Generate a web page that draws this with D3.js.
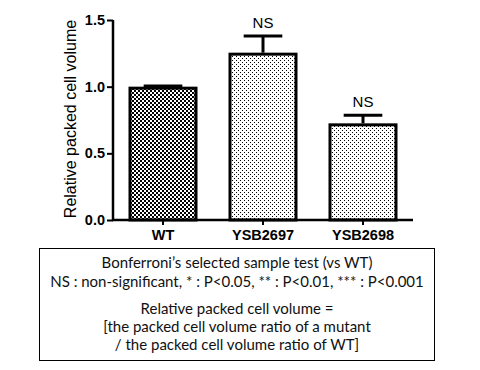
<!DOCTYPE html>
<html>
<head>
<meta charset="utf-8">
<script src="https://cdn.jsdelivr.net/npm/d3@7"></script>
<style>
  body { margin: 0; background: #fff; }
  svg { display: block; }
</style>
</head>
<body>
<div id="chart"></div>
<script>
// chart data
const categories = ["WT", "YSB2697", "YSB2698"];
const means = [1.0, 1.255, 0.725];
const errors = [0.005, 0.125, 0.06];
const signif = ["", "NS", "NS"];
const yTicks = [0.0, 0.5, 1.0, 1.5];
const yTitle = "Relative packed cell volume";
const noteLines = [
  "Bonferroni\u2019s selected sample test (vs WT)",
  "NS : non-significant, * : P<0.05, ** : P<0.01, *** : P<0.001",
  "Relative packed cell volume =",
  "[the packed cell volume ratio of a mutant",
  "/ the packed cell volume ratio of WT]"
];

const width = 480, height = 370;
const svg = d3.select("#chart").append("svg")
  .attr("width", width)
  .attr("height", height);

// fill patterns
const defs = svg.append("defs");
const checker = defs.append("pattern")
  .attr("id", "checker")
  .attr("patternUnits", "userSpaceOnUse")
  .attr("width", 4).attr("height", 4);
checker.append("rect").attr("width", 4).attr("height", 4).attr("fill", "#fff");
checker.append("rect").attr("width", 2).attr("height", 2).attr("fill", "#000");
checker.append("rect").attr("x", 2).attr("y", 2).attr("width", 2).attr("height", 2).attr("fill", "#000");

const dots = defs.append("pattern")
  .attr("id", "dots")
  .attr("patternUnits", "userSpaceOnUse")
  .attr("width", 4).attr("height", 4);
dots.append("rect").attr("width", 4).attr("height", 4).attr("fill", "#fff");
dots.append("rect").attr("width", 1).attr("height", 1).attr("fill", "#000");
dots.append("rect").attr("x", 2).attr("y", 2).attr("width", 1).attr("height", 1).attr("fill", "#000");

// scales
const x = d3.scaleBand()
  .domain(categories)
  .range([113, 413])
  .paddingInner(0.31)
  .paddingOuter(0.155);

const y = d3.scaleLinear()
  .domain([0, 1.5])
  .range([220, 20]);

const data = categories.map((c, i) => ({ cat: c, mean: means[i], err: errors[i], sig: signif[i] }));

// bars
svg.selectAll(".bar")
  .data(data)
  .enter().append("rect")
  .attr("class", "bar")
  .attr("x", d => x(d.cat) + 1.5)
  .attr("y", d => y(d.mean) + 1.5)
  .attr("width", x.bandwidth() - 3)
  .attr("height", d => y(0) - y(d.mean) - 1.5)
  .attr("fill", (d, i) => i === 0 ? "url(#checker)" : "url(#dots)")
  .attr("stroke", "#000")
  .attr("stroke-width", 3);

// error bars
const capW = x.bandwidth() * 0.56;
const eb = svg.selectAll(".err")
  .data(data)
  .enter().append("g")
  .attr("class", "err");

eb.append("line")
  .attr("x1", d => x(d.cat) + x.bandwidth() / 2)
  .attr("x2", d => x(d.cat) + x.bandwidth() / 2)
  .attr("y1", d => y(d.mean))
  .attr("y2", d => y(d.mean + d.err))
  .attr("stroke", "#000")
  .attr("stroke-width", 3);

eb.append("line")
  .attr("x1", d => x(d.cat) + x.bandwidth() / 2 - capW / 2)
  .attr("x2", d => x(d.cat) + x.bandwidth() / 2 + capW / 2)
  .attr("y1", d => y(d.mean + d.err))
  .attr("y2", d => y(d.mean + d.err))
  .attr("stroke", "#000")
  .attr("stroke-width", 3);

// significance labels
svg.selectAll(".sig")
  .data(data)
  .enter().append("text")
  .attr("class", "sig")
  .attr("x", d => x(d.cat) + x.bandwidth() / 2)
  .attr("y", d => y(d.mean + d.err) - 8)
  .attr("text-anchor", "middle")
  .style("font-family", "'Liberation Sans', Arial, sans-serif")
  .style("font-size", "15px")
  .text(d => d.sig);

// y axis
const yAxis = svg.append("g")
  .attr("transform", "translate(113,0)")
  .call(d3.axisLeft(y).tickValues(yTicks).tickFormat(d3.format(".1f")).tickSize(6).tickPadding(2));
yAxis.select(".domain").attr("stroke-width", 2.5).attr("d", "M0,20V221");
yAxis.selectAll(".tick line").attr("stroke-width", 2);
yAxis.selectAll(".tick text")
  .style("font-family", "'Liberation Sans', Arial, sans-serif")
  .style("font-size", "14.5px")
  .style("font-weight", "bold")
  .attr("fill", "#000");

// x axis
const xAxis = svg.append("g")
  .attr("transform", "translate(0,220)")
  .call(d3.axisBottom(x).tickSize(5).tickPadding(5));
xAxis.select(".domain").attr("stroke-width", 2.5).attr("d", "M112,0H413");
xAxis.selectAll(".tick line").attr("stroke-width", 2);
xAxis.selectAll(".tick text")
  .style("font-family", "'Liberation Sans', Arial, sans-serif")
  .style("font-size", "14.5px")
  .style("font-weight", "bold")
  .attr("fill", "#000");

// y title
svg.append("text")
  .attr("transform", "translate(76,119) rotate(-90)")
  .attr("text-anchor", "middle")
  .style("font-family", "'Liberation Sans', Arial, sans-serif")
  .style("font-size", "16px")
  .text(yTitle);

// note box
svg.append("rect")
  .attr("x", 39.5).attr("y", 248.5)
  .attr("width", 395).attr("height", 112)
  .attr("fill", "none")
  .attr("stroke", "#000")
  .attr("stroke-width", 1);

const noteY = [268, 287, 314, 332, 350];
svg.selectAll(".note")
  .data(noteLines)
  .enter().append("text")
  .attr("class", "note")
  .attr("x", 237)
  .attr("y", (d, i) => noteY[i])
  .attr("text-anchor", "middle")
  .style("font-family", "Lato, 'Noto Sans', sans-serif")
  .style("font-size", "15px")
  .attr("fill", "#111")
  .text(d => d);
</script>
</body>
</html>
